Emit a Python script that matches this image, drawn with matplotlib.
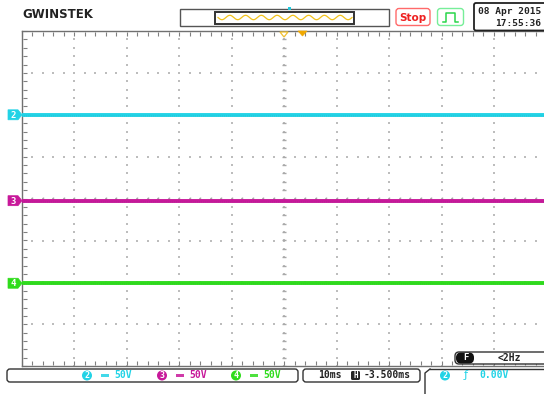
import numpy as np
import matplotlib
matplotlib.use("Agg")
import matplotlib.pyplot as plt
from matplotlib.patches import FancyBboxPatch, Polygon, Rectangle, Circle

# Scope screen: 10 x 8 divisions, traces given in divisions from centre
channels = ["2", "3", "4"]
levels = [2.0, -0.05, -2.02]
colors = ["#22d3e6", "#c8189a", "#2fdc1c"]
volts_div = ["50V", "50V", "50V"]
timebase = "10ms"
h_pos = "-3.500ms"
trig_level = "0.00V"
freq = "<2Hz"
date_str = "08 Apr 2015"
time_str = "17:55:36"

W, H = 544, 394
X0, Y0, DX, DY = 22, 31, 52.44, 41.9   # screen origin and division size in px

fig = plt.figure(figsize=(W / 100, H / 100), dpi=100)
fig.patch.set_facecolor("white")

# graticule axes (px -> figure fractions)
ax = fig.add_axes([X0 / W, (H - (Y0 + 8 * DY)) / H, 10 * DX / W, 8 * DY / H])
ax.set_xlim(0, 10)
ax.set_ylim(-4, 4)
ax.axis("off")

sub = np.arange(0, 10.01, 0.2)
subv = np.arange(-4, 4.01, 0.2)
for gx in range(1, 10):
    ax.scatter(np.full(subv.size, gx), subv, s=1.2, c="#bdbdbd", marker="s", lw=0)
for gy in range(-3, 4):
    ax.scatter(sub, np.full(sub.size, gy), s=1.2, c="#bdbdbd", marker="s", lw=0)
# centre lines with ticks
ax.scatter(np.full(subv.size, 5), subv, s=6, c="#a8a8a8", marker="_", lw=1)
ax.scatter(sub, np.zeros(sub.size), s=6, c="#a8a8a8", marker="|", lw=1)

# border lines with ticks
ax.plot([0, 0], [-4, 4], color="#707070", lw=1.0, clip_on=False)
ax.plot([0, 10], [4, 4], color="#707070", lw=1.0, clip_on=False)
ax.plot([0, 10], [-4, -4], color="#707070", lw=1.0, clip_on=False)
ax.scatter(np.full(subv.size, 0.05), subv, s=5, c="#808080", marker="_", lw=0.8, clip_on=False)
ax.scatter(sub, np.full(sub.size, 3.93), s=5, c="#808080", marker="|", lw=0.8, clip_on=False)
ax.scatter(sub, np.full(sub.size, -3.93), s=5, c="#808080", marker="|", lw=0.8, clip_on=False)

# traces
for lev, col in zip(levels, colors):
    ax.plot([0, 10], [lev, lev], color=col, lw=2.8, solid_capstyle="butt")
    ax.plot([0, 10], [lev - 0.03, lev - 0.03], color="#205060", lw=0.3, alpha=0.35, ls=(0, (2, 3)))

# overlay in pixel coordinates
ov = fig.add_axes([0, 0, 1, 1])
ov.set_xlim(0, W)
ov.set_ylim(H, 0)
ov.axis("off")
ov.patch.set_alpha(0)

mono = "DejaVu Sans Mono"

# channel markers on the left
for ch, lev, col in zip(channels, levels, colors):
    yc = Y0 + (4 - lev) * DY
    ov.add_patch(Polygon([[8, yc - 5], [18, yc - 5], [22, yc], [18, yc + 5], [8, yc + 5]],
                         closed=True, fc=col, ec=col, lw=0.5))
    ov.text(13.5, yc + 0.5, ch, color="white", fontsize=6.5, fontweight="bold",
            ha="center", va="center", family=mono)

# logo
ov.text(22, 14, "GWINSTEK", fontsize=8.5, fontweight="heavy", family="DejaVu Sans",
        ha="left", va="center", color="#222222")

# memory bar
ov.add_patch(Rectangle((180, 8.5), 209, 17.5, fc="white", ec="#555555", lw=1.0))
ov.add_patch(Rectangle((215, 12), 139, 11.5, fc="white", ec="#333333", lw=1.4))
wx = np.linspace(218, 352, 300)
ov.plot(wx, 17.5 + 2.2 * np.sin((wx - 218) / 134 * 2 * np.pi * 8.5), color="#f2c21a", lw=0.9)
ov.add_patch(Rectangle((287.5, 6.5), 3, 3, fc="#22c8dd", ec="none"))

# stop / trigger / date boxes
ov.add_patch(FancyBboxPatch((396, 8.5), 34, 17, boxstyle="round,pad=0,rounding_size=3",
                            fc="white", ec="#ff6a6a", lw=1.0))
ov.text(413, 17.5, "Stop", color="#ee2020", fontsize=7.5, fontweight="bold",
        ha="center", va="center", family="DejaVu Sans")
ov.add_patch(FancyBboxPatch((437.5, 8.5), 26, 17, boxstyle="round,pad=0,rounding_size=3",
                            fc="white", ec="#77ee99", lw=1.0))
ov.plot([443, 446, 446, 455, 455, 458], [22, 22, 13, 13, 22, 22], color="#2ad64a", lw=1.1)
ov.add_patch(FancyBboxPatch((474, 3), 74, 27.5, boxstyle="round,pad=0,rounding_size=2",
                            fc="white", ec="#222222", lw=1.3))
ov.text(541, 11, date_str, fontsize=6.8, fontweight="bold", family=mono,
        ha="right", va="center", color="#222222")
ov.text(541, 23, time_str, fontsize=6.8, fontweight="bold", family=mono,
        ha="right", va="center", color="#222222")

# trigger position markers at the top
ov.add_patch(Polygon([[280, 32], [288, 32], [284, 37]], closed=True, fc="white", ec="#f0c030", lw=0.9))
ov.add_patch(Polygon([[298, 31], [307, 31], [302.5, 36]], closed=True, fc="#f0a800", ec="#f0a800", lw=0.5))

# bottom status bar: channel scales
ov.add_patch(FancyBboxPatch((7, 369), 291, 13, boxstyle="round,pad=0,rounding_size=3",
                            fc="white", ec="#333333", lw=1.0))
cx = [87, 162, 236]
for ch, col, vd, x in zip(channels, colors, volts_div, cx):
    ov.add_patch(Circle((x, 375.5), 5, fc=col, ec="none"))
    ov.text(x, 376, ch, color="white", fontsize=6, fontweight="bold", ha="center", va="center", family=mono)
    ov.add_patch(Rectangle((x + 14, 373.5), 8, 3.5, fc=col, ec="none", alpha=0.85))
    ov.text(x + 36, 375.5, vd, color=col, fontsize=7, fontweight="bold", ha="center", va="center", family=mono)

# timebase box
ov.add_patch(FancyBboxPatch((303, 369), 117, 13, boxstyle="round,pad=0,rounding_size=3",
                            fc="white", ec="#333333", lw=1.0))
ov.text(330, 375.5, timebase, fontsize=7, fontweight="bold", ha="center", va="center", family=mono, color="#222222")
ov.add_patch(FancyBboxPatch((351, 371), 9, 9, boxstyle="round,pad=0,rounding_size=1.5",
                            fc="#222222", ec="none"))
ov.text(355.5, 376, "H", fontsize=5.5, fontweight="bold", ha="center", va="center", family=mono, color="white")
ov.text(387, 375.5, h_pos, fontsize=7, fontweight="bold", ha="center", va="center", family=mono, color="#222222")

# trigger info box
ov.plot([425, 425, 430], [394, 373, 369], color="#333333", lw=1.0)
ov.plot([430, 548], [369, 369], color="#333333", lw=1.0)
ov.add_patch(Circle((445, 375.5), 5, fc=colors[0], ec="none"))
ov.text(445, 376, channels[0], color="white", fontsize=6, fontweight="bold", ha="center", va="center", family=mono)
ov.text(466, 375.5, "ƒ", color=colors[0], fontsize=8, ha="center", va="center", family="DejaVu Sans")
ov.text(494, 375.5, trig_level, color=colors[0], fontsize=7, fontweight="bold", ha="center", va="center", family=mono)

# frequency box
ov.add_patch(FancyBboxPatch((455, 352), 95, 12, boxstyle="round,pad=0,rounding_size=4",
                            fc="white", ec="#333333", lw=1.0))
ov.add_patch(FancyBboxPatch((456, 352.5), 18, 11, boxstyle="round,pad=0,rounding_size=5",
                            fc="#111111", ec="none"))
ov.text(465.5, 358, "F", color="white", fontsize=6.5, fontweight="bold", ha="center", va="center", family=mono)
ov.text(509, 358, freq, color="#222222", fontsize=7, fontweight="bold", ha="center", va="center", family=mono)

fig.savefig("out.png", dpi=100)
